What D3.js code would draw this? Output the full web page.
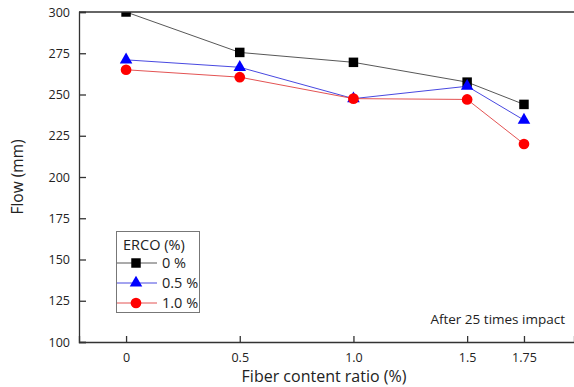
<!DOCTYPE html>
<html>
<head>
<meta charset="utf-8">
<script src="https://cdn.jsdelivr.net/npm/d3@7"></script>
<style>
  body { margin: 0; background: #fff; }
  svg { display: block; font-family: "Open Sans", "DejaVu Sans", sans-serif; }
</style>
</head>
<body>
<svg id="chart" width="574" height="387"></svg>
<script>
const fiberRatios = [0, 0.5, 1.0, 1.5, 1.75];
const xTickLabels = ["0", "0.5", "1.0", "1.5", "1.75"];
const yTicks = [100, 125, 150, 175, 200, 225, 250, 275, 300];
const seriesNames = ["0 %", "0.5 %", "1.0 %"];
const flow0 = [300, 275.5, 269.5, 257.5, 244];
const flow05 = [271, 266.5, 247.5, 255, 234.5];
const flow10 = [265, 260.5, 247.5, 247, 220];

const svg = d3.select("#chart");
const plotLeft = 79, plotTop = 12, plotBottom = 342;

const x = d3.scaleLinear().domain([-0.207, 1.97]).range([plotLeft, 574]);
const y = d3.scaleLinear().domain([100, 300]).range([plotBottom, plotTop]);

const axisColor = "#333";

// markers are clipped to the plot area, like the original
svg.append("defs").append("clipPath").attr("id", "plot-clip")
  .append("rect")
  .attr("x", plotLeft).attr("y", plotTop)
  .attr("width", 574 - plotLeft).attr("height", plotBottom - plotTop);

const dataLayer = svg.append("g").attr("clip-path", "url(#plot-clip)");

const series = [
  { name: seriesNames[0], values: flow0, line: "#444", fill: "#000", shape: d3.symbolSquare, size: 90 },
  { name: seriesNames[1], values: flow05, line: "#3333dd", fill: "#0000ff", shape: d3.symbolTriangle, size: 68 },
  { name: seriesNames[2], values: flow10, line: "#e04040", fill: "#ff0000", shape: d3.symbolCircle, size: 90 }
];

const line = d3.line().x((d, i) => x(fiberRatios[i])).y(d => y(d));

series.forEach(s => {
  dataLayer.append("path")
    .datum(s.values)
    .attr("fill", "none")
    .attr("stroke", s.line)
    .attr("stroke-width", 0.9)
    .attr("d", line);
});

series.forEach(s => {
  dataLayer.append("g")
    .selectAll("path")
    .data(s.values)
    .join("path")
    .attr("transform", (d, i) => `translate(${x(fiberRatios[i])}, ${y(d)})`)
    .attr("d", d3.symbol().type(s.shape).size(s.size))
    .attr("fill", s.fill);
});

// frame: top line and axes
svg.append("line")
  .attr("x1", plotLeft).attr("x2", 574).attr("y1", plotTop).attr("y2", plotTop)
  .attr("stroke", axisColor).attr("stroke-width", 1.3);

const xAxis = svg.append("g")
  .attr("transform", `translate(0, ${plotBottom})`)
  .call(d3.axisBottom(x).tickValues(fiberRatios).tickSize(-6).tickPadding(11)
    .tickFormat((d, i) => xTickLabels[i]));
xAxis.select(".domain").attr("stroke", axisColor).attr("stroke-width", 1.3);
xAxis.selectAll(".tick line").attr("stroke", axisColor).attr("stroke-width", 1.3);
xAxis.selectAll("text").attr("font-size", 12.5).attr("fill", "#222")
  .attr("font-family", "'Open Sans', sans-serif");

const yAxis = svg.append("g")
  .attr("transform", `translate(${plotLeft}, 0)`)
  .call(d3.axisLeft(y).tickValues(yTicks).tickSize(-7).tickPadding(9));
yAxis.select(".domain").attr("stroke", axisColor).attr("stroke-width", 1.3);
yAxis.selectAll(".tick line").attr("stroke", axisColor).attr("stroke-width", 1.3);
yAxis.selectAll("text").attr("font-size", 12.5).attr("fill", "#222")
  .attr("font-family", "'Open Sans', sans-serif");

svg.append("text")
  .attr("transform", "rotate(-90)")
  .attr("x", -177).attr("y", 23)
  .attr("text-anchor", "middle")
  .attr("font-size", 15.5).attr("fill", "#222")
  .text("Flow (mm)");

svg.append("text")
  .attr("x", 324).attr("y", 382)
  .attr("text-anchor", "middle")
  .attr("font-size", 16).attr("fill", "#222")
  .text("Fiber content ratio (%)");

svg.append("text")
  .attr("x", 565).attr("y", 324)
  .attr("text-anchor", "end")
  .attr("font-size", 13.5).attr("fill", "#222")
  .text("After 25 times impact");

// legend
const legend = svg.append("g").attr("transform", "translate(116, 231)");
legend.append("rect")
  .attr("x", 0.5).attr("y", 0.5)
  .attr("width", 83).attr("height", 81)
  .attr("fill", "#fff").attr("stroke", "#777").attr("stroke-width", 1);
legend.append("text")
  .attr("x", 7).attr("y", 19)
  .attr("font-size", 14.5).attr("fill", "#222")
  .text("ERCO (%)");

series.forEach((s, i) => {
  const cy = 32 + i * 20;
  legend.append("line")
    .attr("x1", 1).attr("x2", 41).attr("y1", cy).attr("y2", cy)
    .attr("stroke", s.line).attr("stroke-width", 0.9);
  legend.append("path")
    .attr("transform", `translate(20, ${cy})`)
    .attr("d", d3.symbol().type(s.shape).size(s.size))
    .attr("fill", s.fill);
  legend.append("text")
    .attr("x", 46).attr("y", cy + 5)
    .attr("font-size", 14.5).attr("fill", "#222")
    .text(s.name);
});
</script>
</body>
</html>
